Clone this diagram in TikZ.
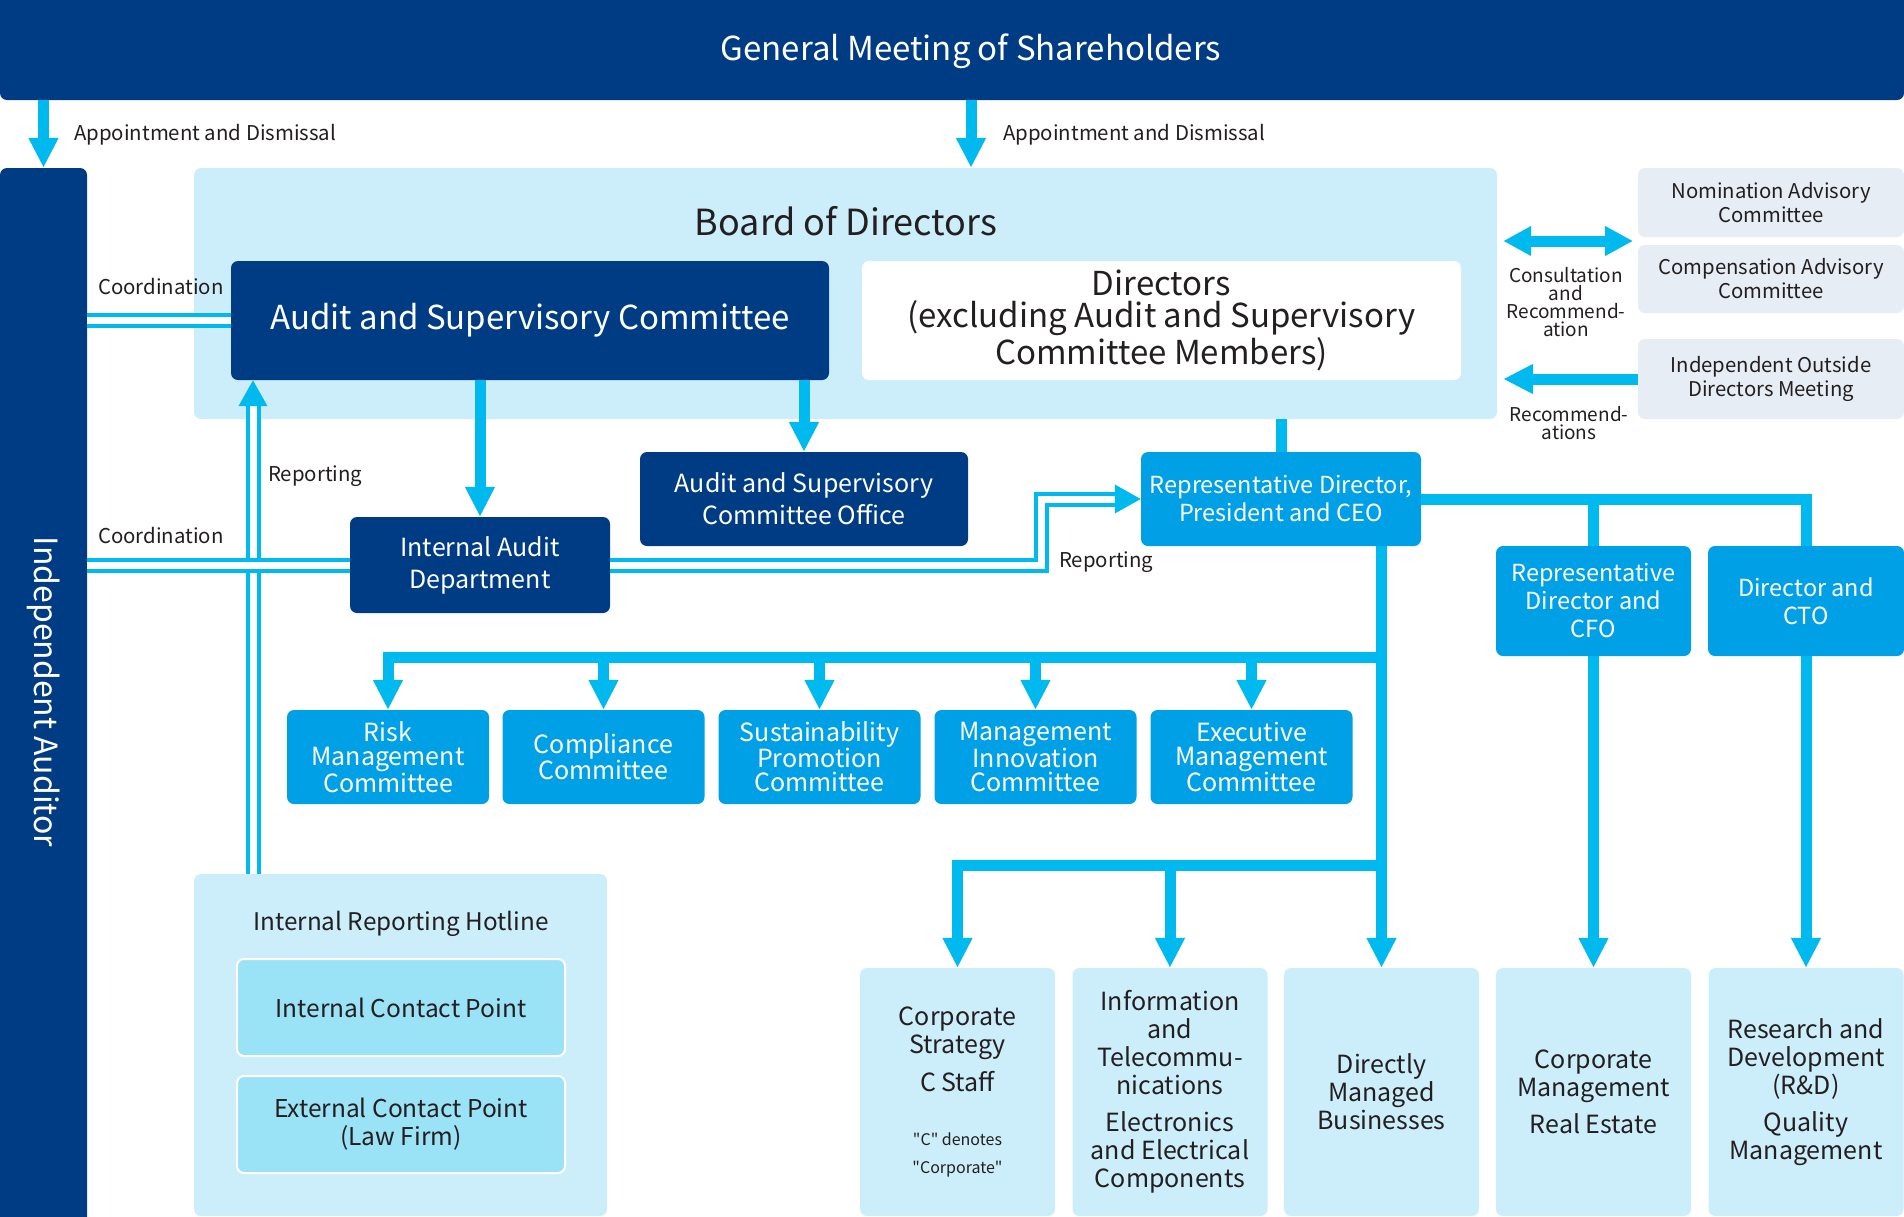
\documentclass[tikz,border=0pt]{standalone}
\usepackage{fontspec}
\setmainfont{Noto Sans CJK JP}
\usetikzlibrary{arrows.meta}

\definecolor{navy}{HTML}{003C84}
\definecolor{midblue}{HTML}{00A0E6}
\definecolor{linecyan}{HTML}{00B9EF}
\definecolor{paleblue}{HTML}{CCEEFA}
\definecolor{contactblue}{HTML}{9AE2F6}
\definecolor{greyblue}{HTML}{E7EDF5}
\definecolor{ink}{HTML}{231F20}

\tikzset{
	box/.style = {inner sep = 0pt, align = center, rounded corners = 7pt},
	navybox/.style = {box, fill = navy, text = white},
	bluebox/.style = {box, fill = midblue, text = white},
	palebox/.style = {box, fill = paleblue, text = ink},
	greybox/.style = {box, fill = greyblue, text = ink},
	contactbox/.style = {box, fill = contactblue, draw = white, line width = 2pt, text = ink,
					 minimum width = 328pt, minimum height = 97pt, font = \fontsize{24.5}{28}\selectfont},
	committee/.style = {bluebox, minimum width = 202pt, minimum height = 94pt,
					 font = \fontsize{25}{24}\selectfont},
	officer/.style = {bluebox, font = \fontsize{23.5}{28}\selectfont},
	unit/.style = {palebox, minimum width = 195pt, minimum height = 248pt,
					 font = \fontsize{25}{28}\selectfont},
	advisory/.style = {greybox, minimum width = 266pt, font = \fontsize{20.3}{24}\selectfont},
	tag/.style = {text = ink, inner sep = 0pt, font = \fontsize{20.4}{22}\selectfont},
	smalltag/.style = {text = ink, inner sep = 0pt, align = center, font = \fontsize{19}{18}\selectfont},
	trunk/.style = {draw = linecyan, line width = 11pt},
	flow/.style = {trunk, -{Triangle[width = 28pt, length = 30pt]}},
	twoway/.style = {trunk, {Triangle[width = 28pt, length = 28pt]}-{Triangle[width = 28pt, length = 28pt]}},
	twin/.style = {draw = linecyan, line width = 4pt, double = white, double distance = 7pt},
	twinflow/.style = {twin, -{Triangle[width = 28pt, length = 26pt]}},
}

\begin{document}
\begin{tikzpicture}[x = 1pt, y = -1pt]
	\useasboundingbox (0,0) rectangle (1904,1216);
	\fill[white] (0,0) rectangle (1904,1216);

	\draw (952,45) node[navybox, minimum width = 1904pt, minimum height = 110pt](gms) {};
	\draw (971,51) node[text = white, font = \fontsize{33}{36}\selectfont](gmstext) {General Meeting of Shareholders};

	\draw (43.5,700) node[navybox, minimum width = 87pt, minimum height = 1064pt](auditor) {};
	\draw (44,692) node[rotate = -90, text = white, font = \fontsize{32}{36}\selectfont](audtext) {Independent Auditor};

	\draw (845.5,293.5) node[palebox, minimum width = 1303pt, minimum height = 251pt](board) {};
	\draw (846,221) node[text = ink, font = \fontsize{36}{40}\selectfont](boardtext) {Board of Directors};
	\draw (530,320.5) node[navybox, minimum width = 598pt, minimum height = 119pt,
					 font = \fontsize{33}{36}\selectfont](asc) {Audit and Supervisory Committee};
	\draw (1161.5,320.5) node[box, fill = white, text = ink, minimum width = 599pt, minimum height = 119pt,
					 font = \fontsize{33}{32}\selectfont](dirs) {Directors\\(excluding Audit and Supervisory\\Committee Members)};

	\draw (1771,202.5) node[advisory, minimum height = 69pt](nom) {Nomination Advisory\\Committee};
	\draw (1771,279) node[advisory, minimum height = 68pt](comp) {Compensation Advisory\\Committee};
	\draw (1771,379) node[advisory, minimum height = 80pt](iodm) {Independent Outside\\Directors Meeting};

	\draw (480,565) node[navybox, minimum width = 260pt, minimum height = 96pt,
					 font = \fontsize{25}{32}\selectfont](iad) {Internal Audit\\Department};
	\draw (804,499) node[navybox, minimum width = 328pt, minimum height = 94pt,
					 font = \fontsize{25}{32}\selectfont](aso) {Audit and Supervisory\\Committee Office};

	\draw (1281,499) node[officer, minimum width = 280pt, minimum height = 94pt](ceo) {Representative Director,\\President and CEO};
	\draw (1593.5,601) node[officer, minimum width = 195pt, minimum height = 110pt](cfo) {Representative\\Director and\\CFO};
	\draw (1806,601) node[officer, minimum width = 196pt, minimum height = 110pt](cto) {Director and\\CTO};

	\draw (388,757) node[committee](risk) {Risk\\Management\\Committee};
	\draw (603.5,757) node[committee](compl) {Compliance\\Committee};
	\draw (819.5,757) node[committee](sust) {Sustainability\\Promotion\\Committee};
	\draw (1035.5,757) node[committee](innov) {Management\\Innovation\\Committee};
	\draw (1251.5,757) node[committee](exec) {Executive\\Management\\Committee};

	\draw (957.5,1092) node[unit](strat) {Corporate\\Strategy\\[10pt]C Staff\\[26pt]{\fontsize{16}{27}\selectfont\textquotedbl C\textquotedbl\ denotes}\\{\fontsize{16}{27}\selectfont\textquotedbl Corporate\textquotedbl}};
	\draw (1170,1092) node[unit](info) {Information\\and\\Telecommu-\\nications\\[9pt]Electronics\\and Electrical\\Components};
	\draw (1381.5,1092) node[unit](dmb) {Directly\\Managed\\Businesses};
	\draw (1593.5,1092) node[unit](corp) {Corporate\\Management\\[9pt]Real Estate};
	\draw (1806,1092) node[unit](rd) {Research and\\Development\\(R\&D)\\[9pt]Quality\\Management};

	\draw (400.5,1045) node[palebox, minimum width = 413pt, minimum height = 342pt](hotline) {};
	\draw (401,924) node[text = ink, font = \fontsize{24.3}{28}\selectfont](hottext) {Internal Reporting Hotline};
	\draw (401,1007.5) node[contactbox](icp) {Internal Contact Point};
	\draw (401,1124.5) node[contactbox](ecp) {External Contact Point\\(Law Firm)};

	\draw (74,135) node[tag, anchor = west](appl) {Appointment and Dismissal};
	\draw (1003,135) node[tag, anchor = west](appm) {Appointment and Dismissal};
	\draw (98,287) node[tag, anchor = west](coordup) {Coordination};
	\draw (98,536) node[tag, anchor = west](coordlow) {Coordination};
	\draw (268,476) node[tag, anchor = west](repup) {Reporting};
	\draw (1059,562) node[tag, anchor = west](repceo) {Reporting};
	\draw (1566,302) node[smalltag](consult) {Consultation\\and\\Recommend-\\ation};
	\draw (1569,423) node[smalltag](recomm) {Recommend-\\ations};

	\coordinate (gmsdrop) at (971,100);
	\coordinate (advgap) at (1633,241);
	\coordinate (hlup) at (253,874);
	\coordinate (repbend) at (1041.5,530);
	\coordinate (cbus) at (1380,657);
	\coordinate (bbus) at (1380,865);

	\draw[flow] (gms.south -| auditor.north) -- (auditor.north);
	\draw[flow] (gmsdrop) -- (gmsdrop |- board.north);

	\draw[twoway, shorten <= 6pt] (board.east |- advgap) -- (advgap);
	\draw[flow, shorten > = 6pt] (iodm.west) -- (iodm.west -| board.east);

	\draw[flow] (asc.south -| iad.north) -- (iad.north);
	\draw[flow] (asc.south -| aso.north) -- (aso.north);

	\draw[twinflow] (hlup) -- (hlup |- asc.south);
	\draw[twin] (asc.west) -- (asc.west -| auditor.east);
	\draw[twin] (iad.west) -- (iad.west -| auditor.east);
	\draw[twinflow] (iad.east) -| (repbend) |- (ceo.west);

	\draw[trunk] (board.south -| ceo.north) -- (ceo.north);
	\draw[trunk] (ceo.east) -| (cto.north);
	\draw[trunk] (ceo.east -| cfo.north) -- (cfo.north);
	\draw[flow] (cfo.south) -- (corp.north);
	\draw[flow] (cto.south) -- (rd.north);

	\draw[flow] (ceo.south -| dmb.north) -- (dmb.north);
	\draw[flow] (cbus) -| (risk.north);
	\draw[flow] (cbus -| compl.north) -- (compl.north);
	\draw[flow] (cbus -| sust.north) -- (sust.north);
	\draw[flow] (cbus -| innov.north) -- (innov.north);
	\draw[flow] (cbus -| exec.north) -- (exec.north);
	\draw[flow] (bbus) -| (strat.north);
	\draw[flow] (bbus -| info.north) -- (info.north);
\end{tikzpicture}
\end{document}
